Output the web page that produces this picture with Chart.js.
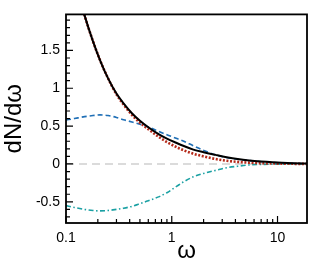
<!DOCTYPE html>
<html>
<head>
<meta charset="utf-8">
<script src="https://cdn.jsdelivr.net/npm/chart.js@4/dist/chart.umd.min.js"></script>
<style>
    html, body { margin: 0; padding: 0; background: #fff; }
    #wrap { width: 316px; height: 263px; }
</style>
</head>
<body>
<div id="wrap"><canvas id="spec"></canvas></div>
<script>
// values
var omega = [0.1, 0.12, 0.15, 0.18, 0.21, 0.25, 0.3, 0.35, 0.42, 0.5, 0.6, 0.75, 0.9, 1.1, 1.3, 1.6, 2, 2.6, 3.3, 4.2, 5.4, 7, 9, 11, 14, 19];
var totalSolid = [2.9, 2.45, 1.96, 1.62, 1.37, 1.13, 0.93, 0.80, 0.67, 0.57, 0.485, 0.395, 0.335, 0.28, 0.237, 0.19, 0.155, 0.12, 0.09, 0.065, 0.046, 0.032, 0.022, 0.016, 0.01, 0.005];
var approxDotted = [2.9, 2.45, 1.96, 1.62, 1.37, 1.13, 0.92, 0.785, 0.65, 0.545, 0.46, 0.36, 0.29, 0.225, 0.18, 0.135, 0.10, 0.065, 0.042, 0.027, 0.017, 0.01, 0.006, 0.004, 0.002, 0.001];
var partDashed = [0.58, 0.60, 0.625, 0.64, 0.648, 0.64, 0.615, 0.585, 0.555, 0.525, 0.49, 0.43, 0.385, 0.34, 0.30, 0.24, 0.18, 0.12, 0.085, 0.062, 0.045, 0.03, 0.02, 0.015, 0.009, 0.005];
var partDashDot = [-0.55, -0.575, -0.60, -0.615, -0.62, -0.615, -0.60, -0.585, -0.56, -0.525, -0.485, -0.435, -0.38, -0.30, -0.235, -0.17, -0.125, -0.085, -0.05, -0.03, -0.013, -0.006, -0.003, -0.002, -0.001, 0];

var xMin = 0.1, xMax = 19;
var yMin = -0.78, yMax = 1.976;
var xTicks = [0.1, 1, 10];
var yTicks = [-0.5, 0, 0.5, 1, 1.5];
var zeroLine = [0, 0];

const pts = (arr) => omega.map((w, i) => ({x: w, y: arr[i]}));

const FONT = '"Liberation Sans", Arial, Helvetica, sans-serif';

// frame + inward ticks (major and minor), left and bottom only
const framePlugin = {
    id: 'frame',
    afterDatasetsDraw(chart) {
        let ctx = chart.ctx, a = chart.chartArea;
        let xs = chart.scales.x, ys = chart.scales.y;
        ctx.save();
        ctx.strokeStyle = '#000';
        ctx.lineWidth = 1.2;
        ctx.beginPath();
        // y ticks
        for (let v = -7; v <= 19; v++) {
            let val = v / 10;
            let y = ys.getPixelForValue(val);
            let len = (v % 5 === 0) ? 7 : 4;
            ctx.moveTo(a.left, y);
            ctx.lineTo(a.left + len, y);
        }
        // x ticks
        for (let d = 0.1; d < 100; d *= 10) {
            for (let m = 1; m <= 9; m++) {
                let val = d * m;
                if (val < xMin || val > xMax) continue;
                let x = xs.getPixelForValue(val);
                let len = (m === 1) ? 7 : 4;
                ctx.moveTo(x, a.bottom);
                ctx.lineTo(x, a.bottom - len);
            }
        }
        ctx.stroke();
        ctx.lineWidth = 1.8;
        ctx.strokeRect(a.left, a.top, a.right - a.left, a.bottom - a.top);
        ctx.restore();
    }
};

const data = {
    datasets: [
        {
            label: 'zero',
            data: [{x: xMin, y: zeroLine[0]}, {x: xMax, y: zeroLine[1]}],
            borderColor: '#cfcfcf',
            borderWidth: 1.5,
            borderDash: [8, 5],
            order: 4
        },
        {
            label: 'dashdot',
            data: pts(partDashDot),
            borderColor: '#1aa0a3',
            borderWidth: 1.6,
            borderDash: [5, 2.5, 1.5, 2.5],
            order: 3
        },
        {
            label: 'dashed',
            data: pts(partDashed),
            borderColor: '#1f6fb6',
            borderWidth: 1.6,
            borderDash: [5, 3],
            order: 2
        },
        {
            label: 'dotted',
            data: pts(approxDotted),
            borderColor: '#b52a1a',
            borderWidth: 2.6,
            borderDash: [2, 1.6],
            order: 1
        },
        {
            label: 'total',
            data: pts(totalSolid),
            borderColor: '#000',
            borderWidth: 2,
            order: 0
        }
    ]
};

const options = {
    responsive: true,
    maintainAspectRatio: false,
    animation: false,
    layout: { padding: { top: 6, right: 9, left: 0, bottom: 0 } },
    plugins: { legend: { display: false }, tooltip: { enabled: false } },
    elements: {
        point: { radius: 0 },
        line: { cubicInterpolationMode: 'monotone', fill: false }
    },
    datasets: { line: { clip: 0 } },
    scales: {
        x: {
            type: 'logarithmic',
            min: xMin,
            max: xMax,
            grid: { display: false, drawTicks: false },
            border: { display: false },
            afterBuildTicks: (s) => { s.ticks = xTicks.map(v => ({value: v})); },
            afterFit: (s) => { s.height = 40; },
            ticks: {
                color: '#000',
                padding: 7,
                maxRotation: 0,
                font: { family: FONT, size: 14 },
                callback: (v) => String(v)
            },
            title: {
                display: true,
                text: 'ω',
                color: '#000',
                padding: { top: 0, bottom: 0 },
                font: { family: FONT, size: 24, lineHeight: 1 }
            }
        },
        y: {
            min: yMin,
            max: yMax,
            grid: { display: false, drawTicks: false },
            border: { display: false },
            afterBuildTicks: (s) => { s.ticks = yTicks.map(v => ({value: v})); },
            afterFit: (s) => { s.width = 66; },
            ticks: {
                color: '#000',
                padding: 6,
                font: { family: FONT, size: 14 },
                callback: (v) => String(v)
            },
            title: {
                display: true,
                text: 'dN/dω',
                color: '#000',
                padding: { top: 0, bottom: 0 },
                font: { family: FONT, size: 24 }
            }
        }
    }
};

new Chart(document.getElementById('spec'), {
    type: 'line',
    data: data,
    options: options,
    plugins: [framePlugin]
});
</script>
</body>
</html>
